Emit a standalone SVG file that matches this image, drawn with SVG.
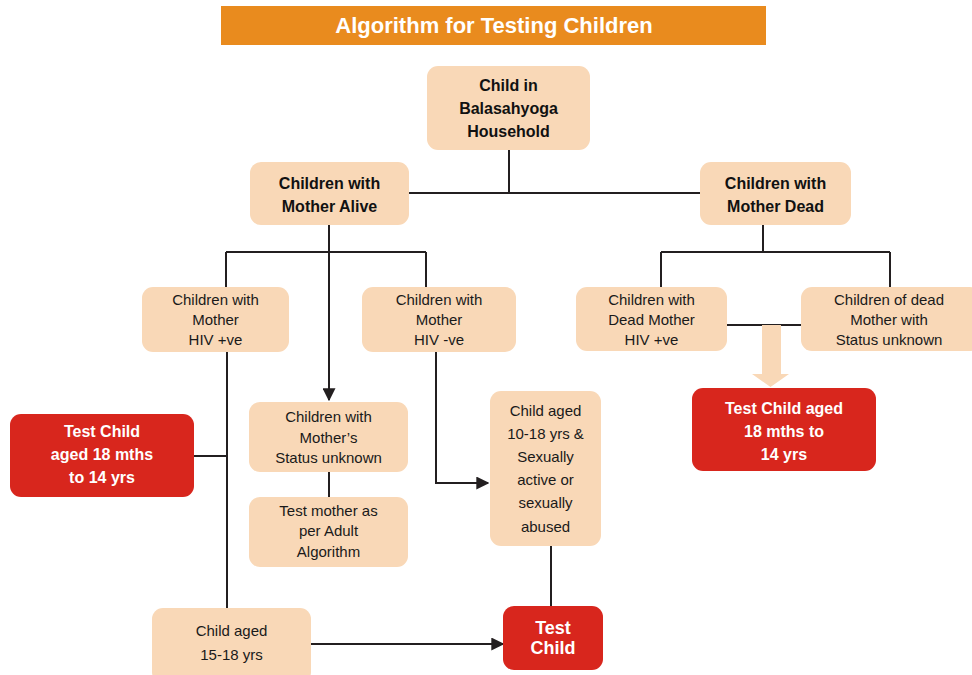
<svg xmlns="http://www.w3.org/2000/svg" width="972" height="675" viewBox="0 0 972 675">
  <style>
    .box { fill: #F9D8B7; }
    .red { fill: #D8261D; }
    .ln { stroke: #231F20; stroke-width: 2; fill: none; }
    text { font-family: "Liberation Sans", Arial, sans-serif; text-anchor: middle; }
    .b { font-weight: bold; font-size: 16px; fill: #111; }
    .n { font-size: 15px; fill: #1a1a1a; }
    .w { font-weight: bold; font-size: 16px; fill: #fff; }
    .w2 { font-weight: bold; font-size: 18px; fill: #fff; }
    .title { font-weight: bold; font-size: 22px; fill: #fff; }
  </style>
  <defs>
    <marker id="arr" viewBox="0 0 10 10" refX="9" refY="5" markerWidth="13" markerHeight="13" markerUnits="userSpaceOnUse" orient="auto">
      <path d="M0,0 L10,5 L0,10 z" fill="#231F20"/>
    </marker>
  </defs>

  <rect width="972" height="675" fill="#fff"/>

  <!-- heading bar -->
  <g id="title">
    <rect x="221" y="6" width="545" height="39" fill="#E98B1E"/>
    <text class="title" x="494" y="33">Algorithm for Testing Children</text>
  </g>

  <!-- connectors -->
  <g id="connectors">
    <path class="ln" d="M509,150 V193 M380,193 H701"/>
    <path class="ln" d="M329,225 V252 M226,252 H426 M226,252 V287 M426,252 V287"/>
    <path class="ln" d="M329,252 V400" marker-end="url(#arr)"/>
    <path class="ln" d="M763,225 V252 M661,252 H890 M661,252 V287 M890,252 V287"/>
    <path class="ln" d="M227,352 V608 M194,456 H227"/>
    <path class="ln" d="M329,472 V497"/>
    <path class="ln" d="M436,352 V483 H488" marker-end="url(#arr)"/>
    <path class="ln" d="M551,546 V606"/>
    <path class="ln" d="M311,644 H503" marker-end="url(#arr)"/>
    <path class="ln" d="M727,325 H801"/>
    <!-- broad peach arrow -->
    <path d="M762,325 H781 V374 H789 L770.5,387 L752,374 H762 Z" fill="#F9D8B7"/>
  </g>

  <g id="household">
    <rect class="box" x="427" y="66" width="163" height="84" rx="11"/>
    <text class="b" x="508.5" y="91">Child in</text>
    <text class="b" x="508.5" y="114">Balasahyoga</text>
    <text class="b" x="508.5" y="137">Household</text>
  </g>

  <g id="mother-alive">
    <rect class="box" x="250" y="162" width="159" height="63" rx="11"/>
    <text class="b" x="329.5" y="189">Children with</text>
    <text class="b" x="329.5" y="212">Mother Alive</text>
  </g>

  <g id="mother-dead">
    <rect class="box" x="700" y="162" width="151" height="63" rx="11"/>
    <text class="b" x="775.5" y="189">Children with</text>
    <text class="b" x="775.5" y="212">Mother Dead</text>
  </g>

  <g id="mother-pos">
    <rect class="box" x="142" y="287" width="147" height="65" rx="11"/>
    <text class="n" x="215.5" y="305">Children with</text>
    <text class="n" x="215.5" y="325">Mother</text>
    <text class="n" x="215.5" y="345">HIV +ve</text>
  </g>

  <g id="mother-neg">
    <rect class="box" x="362" y="287" width="154" height="65" rx="11"/>
    <text class="n" x="439" y="305">Children with</text>
    <text class="n" x="439" y="325">Mother</text>
    <text class="n" x="439" y="345">HIV -ve</text>
  </g>

  <g id="dead-pos">
    <rect class="box" x="576" y="287" width="151" height="64" rx="11"/>
    <text class="n" x="651.5" y="305">Children with</text>
    <text class="n" x="651.5" y="325">Dead Mother</text>
    <text class="n" x="651.5" y="345">HIV +ve</text>
  </g>

  <g id="dead-unknown">
    <rect class="box" x="801" y="287" width="180" height="64" rx="11"/>
    <text class="n" x="889" y="305">Children of dead</text>
    <text class="n" x="889" y="325">Mother with</text>
    <text class="n" x="889" y="345">Status unknown</text>
  </g>

  <g id="test-child-left">
    <rect class="red" x="10" y="414" width="184" height="83" rx="11"/>
    <text class="w" x="102" y="437">Test Child</text>
    <text class="w" x="102" y="460">aged 18 mths</text>
    <text class="w" x="102" y="483">to 14 yrs</text>
  </g>

  <g id="status-unknown">
    <rect class="box" x="249" y="402" width="159" height="70" rx="11"/>
    <text class="n" x="328.5" y="422">Children with</text>
    <text class="n" x="328.5" y="443">Mother’s</text>
    <text class="n" x="328.5" y="463">Status unknown</text>
  </g>

  <g id="test-mother">
    <rect class="box" x="249" y="497" width="159" height="70" rx="11"/>
    <text class="n" x="328.5" y="516">Test mother as</text>
    <text class="n" x="328.5" y="536">per Adult</text>
    <text class="n" x="328.5" y="557">Algorithm</text>
  </g>

  <g id="sexually-active">
    <rect class="box" x="490" y="391" width="111" height="155" rx="11"/>
    <text class="n" x="545.5" y="416">Child aged</text>
    <text class="n" x="545.5" y="439">10-18 yrs &amp;</text>
    <text class="n" x="545.5" y="462">Sexually</text>
    <text class="n" x="545.5" y="485">active or</text>
    <text class="n" x="545.5" y="508">sexually</text>
    <text class="n" x="545.5" y="532">abused</text>
  </g>

  <g id="test-child-right">
    <rect class="red" x="692" y="388" width="184" height="83" rx="11"/>
    <text class="w" x="784" y="414">Test Child aged</text>
    <text class="w" x="784" y="437">18 mths to</text>
    <text class="w" x="784" y="460">14 yrs</text>
  </g>

  <g id="age-15-18">
    <rect class="box" x="152" y="608" width="159" height="75" rx="11"/>
    <text class="n" x="231.5" y="636">Child aged</text>
    <text class="n" x="231.5" y="660">15-18 yrs</text>
  </g>

  <g id="test-child">
    <rect class="red" x="503" y="606" width="100" height="64" rx="11"/>
    <text class="w2" x="553" y="634">Test</text>
    <text class="w2" x="553" y="654">Child</text>
  </g>
</svg>
